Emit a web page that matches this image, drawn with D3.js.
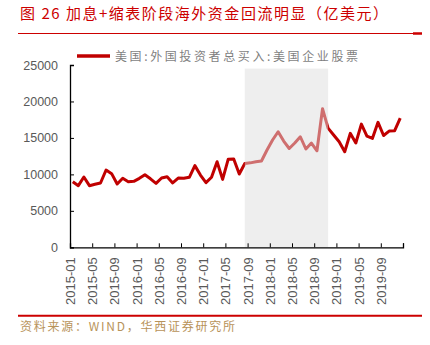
<!DOCTYPE html>
<html><head><meta charset="utf-8">
<script src="https://cdn.jsdelivr.net/npm/d3@7"></script>
<style>body{margin:0;background:#fff}svg{display:block}</style>
</head><body>
<svg id="c" width="430" height="345"></svg>
<script>
const titleText = "图 26  加息+缩表阶段海外资金回流明显（亿美元）";
const legendText = "美国:外国投资者总买入:美国企业股票";
const sourceText = "资料来源：WIND，华西证券研究所";
const tickLabels = ["2015-01","2015-05","2015-09","2016-01","2016-05","2016-09","2017-01","2017-05","2017-09","2018-01","2018-05","2018-09","2019-01","2019-05","2019-09",""];
const yTicks = [0,5000,10000,15000,20000,25000];
const values = [9000,8450,9640,8450,8640,8820,10600,10100,8680,9470,9000,9050,9460,9950,9390,8770,9500,9680,8830,9500,
  9460,9600,11200,9900,8860,9600,11740,9320,12060,12100,10050,11490,11580,11720,11830,13340,14710,15850,14570,13550,
  14300,15160,13480,14300,13240,19000,16350,15400,14480,13110,15630,14300,16900,15260,14940,17140,15330,15940,15990,17700];
const shadeStart = 31.5, shadeEnd = 46.5, shadeTop = 24500;

const svg = d3.select("#c");
const x = d3.scaleLinear().domain([0, 60]).range([70, 403]);
const y = d3.scaleLinear().domain([0, 25000]).range([247.3, 65]);

// title
svg.append("text").attr("x", 20).attr("y", 19).attr("fill", "#cc0000")
  .attr("font-family", "'Noto Sans CJK SC', sans-serif").attr("font-size", 15)
  .attr("textLength", 368).attr("lengthAdjust", "spacing").text(titleText);
svg.append("line").attr("x1", 18).attr("x2", 413).attr("y1", 33.5).attr("y2", 33.5)
  .attr("stroke", "#cc0000").attr("stroke-width", 1);
svg.append("line").attr("x1", 413).attr("x2", 422).attr("y1", 33.5).attr("y2", 33.5)
  .attr("stroke", "#cc0000").attr("stroke-width", 2.5);

// line
const line = d3.line().x((d, i) => x(i + 0.5)).y(d => y(d));
svg.append("path").datum(values).attr("d", line).attr("fill", "none")
  .attr("stroke", "#c00000").attr("stroke-width", 3).attr("stroke-linejoin", "round");

// shade overlay
svg.append("rect").attr("x", x(shadeStart)).attr("width", x(shadeEnd) - x(shadeStart))
  .attr("y", y(shadeTop)).attr("height", y(0) - y(shadeTop))
  .attr("fill", "rgba(221,221,221,0.5)");

// axes
const yAxis = svg.append("g").attr("transform", "translate(70,0)")
  .call(d3.axisLeft(y).tickValues(yTicks).tickSize(-4).tickPadding(12).tickFormat(d3.format("d")));
yAxis.select(".domain").attr("stroke", "#000").attr("stroke-width", 1.3);
yAxis.selectAll(".tick line").attr("stroke", "#000");
yAxis.selectAll("text").attr("fill", "#595959").attr("font-size", 12.5)
  .attr("font-family", "'Liberation Sans', Arial, sans-serif");

const xAxis = svg.append("g").attr("transform", `translate(0,${y(0)})`)
  .call(d3.axisBottom(x).tickValues(d3.range(0, 61, 4)).tickSize(-4).tickFormat((d, i) => tickLabels[i]));
xAxis.select(".domain").attr("stroke", "#000").attr("stroke-width", 1.3);
xAxis.selectAll(".tick line").attr("stroke", "#000");
xAxis.selectAll("text").attr("fill", "#595959").attr("font-size", 13)
  .attr("font-family", "'Liberation Sans', Arial, sans-serif")
  .attr("text-anchor", "end").attr("transform", "rotate(-90)")
  .attr("x", -10).attr("y", 0).attr("dy", "0.35em");

// legend
svg.append("line").attr("x1", 77).attr("x2", 110).attr("y1", 56).attr("y2", 56)
  .attr("stroke", "#c00000").attr("stroke-width", 3.5);
svg.append("text").attr("x", 115).attr("y", 60.5).attr("fill", "#7f7f7f")
  .attr("font-family", "'Noto Sans CJK SC', sans-serif").attr("font-size", 12)
  .attr("textLength", 243).attr("lengthAdjust", "spacing").text(legendText);

// footer
svg.append("line").attr("x1", 18).attr("x2", 422).attr("y1", 315.7).attr("y2", 315.7)
  .attr("stroke", "#cc0000").attr("stroke-width", 2);
svg.append("text").attr("x", 20).attr("y", 331).attr("fill", "#b8935a")
  .attr("font-family", "'Noto Sans CJK SC', sans-serif").attr("font-size", 12)
  .attr("textLength", 215).attr("lengthAdjust", "spacing").text(sourceText);
</script>
</body></html>
